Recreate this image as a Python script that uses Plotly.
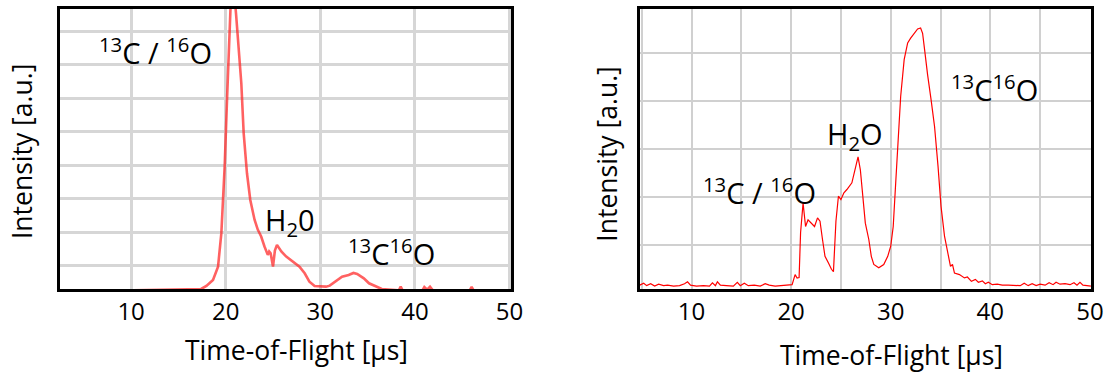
import plotly.graph_objects as go

W, H = 1114, 372          # reference picture size (positions below are read in these pixels)
FIG_W = 1130              # drawing width; the page photo comes out squeezed to W

# ---- data ----
left_tof = [2.5, 10, 17.4, 17.96, 18.66, 19.19, 19.54, 19.89, 20.14, 20.35, 20.55, 20.75, 20.95,
            21.1, 21.3, 21.65, 21.9, 22.25, 22.6, 23.05, 23.4, 23.75, 24.1, 24.45, 24.6, 24.75,
            25.0, 25.2, 25.42, 25.88, 26.4, 27.1, 27.8, 28.35, 28.85, 29.4, 30.6, 31.0, 31.6,
            32.3, 33.0, 33.5, 33.9, 34.6, 35.15, 35.85, 36.5, 38.3, 38.5, 38.7, 40.8, 41.0,
            41.3, 41.6, 41.9, 45.8, 46.0, 46.2, 50.2]
left_intensity = [0.26, 0.26, 0.30, 0.39, 0.57, 0.97, 1.97, 3.96, 5.96, 7.95, 9.0, 9.3, 9.0,
                  8.5, 7.75, 6.45, 4.96, 3.76, 2.96, 2.37, 2.07, 1.87, 1.57, 1.32, 1.42, 1.37,
                  0.97, 1.45, 1.62, 1.42, 1.27, 1.12, 0.97, 0.77, 0.52, 0.39, 0.37, 0.40, 0.52,
                  0.67, 0.72, 0.78, 0.75, 0.62, 0.47, 0.39, 0.30, 0.26, 0.37, 0.26, 0.26, 0.36,
                  0.28, 0.37, 0.26, 0.26, 0.36, 0.26, 0.26]

right_tof = [4.8, 5.2, 5.5, 5.9, 6.3, 6.7, 7.2, 7.6, 8.2, 8.8, 9.3, 9.6, 9.9, 10.5, 11.2, 11.8,
             12.1, 12.4, 12.6, 12.9, 13.5, 14.2, 14.6, 14.9, 15.3, 15.7, 16.3, 16.9, 17.4, 17.8,
             18.4, 19.0, 19.6, 20.1, 20.4, 20.6, 20.8, 20.95, 21.2, 21.45, 21.7, 22.0, 22.35,
             22.65, 22.9, 23.15, 23.4, 23.75, 24.05, 24.25, 24.5, 24.75, 25.0, 25.3, 25.6, 26.1,
             26.45, 26.72, 26.95, 27.2, 27.45, 27.8, 28.05, 28.3, 28.8, 29.3, 29.7, 30.0, 30.25,
             30.5, 30.75, 31.0, 31.35, 31.7, 32.0, 32.35, 32.7, 33.0, 33.2, 33.4, 33.55, 33.7,
             34.05, 34.4, 34.75, 35.05, 35.4, 35.75, 36.0, 36.2, 36.4, 36.9, 37.4, 37.7, 38.1,
             38.5, 38.8, 39.2, 39.5, 39.8, 40.2, 40.7, 41.2, 41.8, 42.5, 43.0, 43.4, 43.8, 44.2,
             44.6, 45.0, 45.5, 45.9, 46.3, 46.6, 47.0, 47.5, 48.0, 48.4, 48.7, 49.0, 49.3, 49.7,
             50.1]
right_intensity = [0.17, 0.21, 0.16, 0.20, 0.15, 0.19, 0.16, 0.17, 0.15, 0.16, 0.20, 0.24, 0.17,
                   0.15, 0.16, 0.15, 0.22, 0.16, 0.24, 0.17, 0.16, 0.15, 0.23, 0.16, 0.21, 0.16,
                   0.17, 0.15, 0.20, 0.17, 0.15, 0.16, 0.17, 0.18, 0.39, 0.32, 0.33, 1.26, 1.88,
                   1.39, 1.53, 1.46, 1.39, 1.57, 1.50, 1.12, 0.77, 0.63, 0.50, 0.45, 1.50, 2.02,
                   1.95, 2.09, 2.16, 2.30, 2.64, 2.84, 2.57, 1.95, 1.46, 1.12, 0.77, 0.60, 0.53,
                   0.60, 0.77, 0.98, 1.39, 2.30, 3.20, 4.10, 4.86, 5.21, 5.31, 5.41, 5.50, 5.52,
                   5.41, 5.07, 4.76, 4.55, 4.03, 3.47, 2.64, 1.81, 1.19, 0.77, 0.56, 0.60, 0.42,
                   0.39, 0.32, 0.34, 0.25, 0.29, 0.23, 0.26, 0.20, 0.23, 0.18, 0.19, 0.17, 0.17,
                   0.17, 0.16, 0.21, 0.16, 0.20, 0.16, 0.19, 0.17, 0.22, 0.18, 0.23, 0.19, 0.20,
                   0.18, 0.22, 0.17, 0.23, 0.17, 0.16, 0.15]

x_tick_vals = [10, 20, 30, 40, 50]
x_tick_text = ["10", "20", "30", "40", "50"]
x_title = "Time-of-Flight [µs]"
y_title = "Intensity [a.u.]"

left_labels = ["<sup>13</sup>C / <sup>16</sup>O", "H<sub>2</sub>0", "<sup>13</sup>C<sup>16</sup>O"]
left_label_x = [12.55, 26.75, 37.5]
left_label_y = [7.42, 2.33, 1.4]
right_labels = ["<sup>13</sup>C / <sup>16</sup>O", "H<sub>2</sub>O", "<sup>13</sup>C<sup>16</sup>O"]
right_label_x = [16.8, 26.4, 40.4]
right_label_y = [2.12, 3.29, 4.27]

FONT = "'Open Sans', 'Noto Sans', sans-serif"


def px(v):
    return v / W


def py(v):
    return 1 - v / H


fig = go.Figure()
fig.add_trace(go.Scatter(x=left_tof, y=left_intensity, mode="lines",
                         line=dict(color="rgba(255,30,30,0.7)", width=2.6),
                         xaxis="x", yaxis="y", showlegend=False))
fig.add_trace(go.Scatter(x=right_tof, y=right_intensity, mode="lines",
                         line=dict(color="#ff0000", width=1.2),
                         xaxis="x2", yaxis="y2", showlegend=False))

axis_common = dict(showline=True, mirror=True, linecolor="black", linewidth=3,
                   zeroline=False, ticks="", tickfont=dict(family=FONT, size=24, color="black"))

fig.update_layout(
    width=FIG_W, height=H, autosize=False, margin=dict(l=0, r=0, t=0, b=0),
    paper_bgcolor="white", plot_bgcolor="white",
    xaxis=dict(domain=[px(60), px(510)], range=[2.5, 50.2], tickvals=x_tick_vals,
               ticktext=x_tick_text, showgrid=True, gridcolor="#d6d6d6", gridwidth=2.5,
               ticklabelstandoff=-1, anchor="y", **axis_common),
    yaxis=dict(domain=[py(289), py(9)], range=[0.3, 8.67], dtick=1, tick0=0,
               showticklabels=False, showgrid=True, gridcolor="#d6d6d6", gridwidth=2.5,
               anchor="x", **axis_common),
    xaxis2=dict(domain=[px(638), px(1088)], range=[4.8, 50.1], tickvals=x_tick_vals,
                ticktext=x_tick_text, showgrid=True, gridcolor="#d0d0d0", gridwidth=1.5,
                minor=dict(dtick=5, tick0=0, showgrid=True, gridcolor="#d0d0d0", gridwidth=1.5),
                ticklabelstandoff=-1, anchor="y2", **axis_common),
    yaxis2=dict(domain=[py(289), py(9)], range=[0.09, 5.915], dtick=1, tick0=0,
                showticklabels=False, showgrid=True, gridcolor="#d0d0d0", gridwidth=1.5,
                anchor="x2", **axis_common),
)

ann = []
for t, x, y in zip(left_labels, left_label_x, left_label_y):
    ann.append(dict(text=t, x=x, y=y, xref="x", yref="y", showarrow=False,
                    xanchor="center", yanchor="middle",
                    font=dict(family=FONT, size=29, color="black")))
for t, x, y in zip(right_labels, right_label_x, right_label_y):
    ann.append(dict(text=t, x=x, y=y, xref="x2", yref="y2", showarrow=False,
                    xanchor="center", yanchor="middle",
                    font=dict(family=FONT, size=29, color="black")))
for cx, cy in [(22, 152), (605, 154)]:
    ann.append(dict(text=y_title, x=px(cx), y=py(cy), xref="paper", yref="paper",
                    showarrow=False, textangle=-90, xanchor="center", yanchor="middle",
                    font=dict(family=FONT, size=26.5, color="black")))
for cx, cy in [(296, 350), (889, 355)]:
    ann.append(dict(text=x_title, x=px(cx), y=py(cy), xref="paper", yref="paper",
                    showarrow=False, xanchor="center", yanchor="middle",
                    font=dict(family=FONT, size=26.5, color="black")))
fig.update_layout(annotations=ann)

fig.write_html(
    "out.html",
    config={"responsive": False, "displayModeBar": False},
    post_script="document.documentElement.style.overflow='hidden';"
                "document.body.style.margin='0';document.body.style.overflow='hidden';",
)
